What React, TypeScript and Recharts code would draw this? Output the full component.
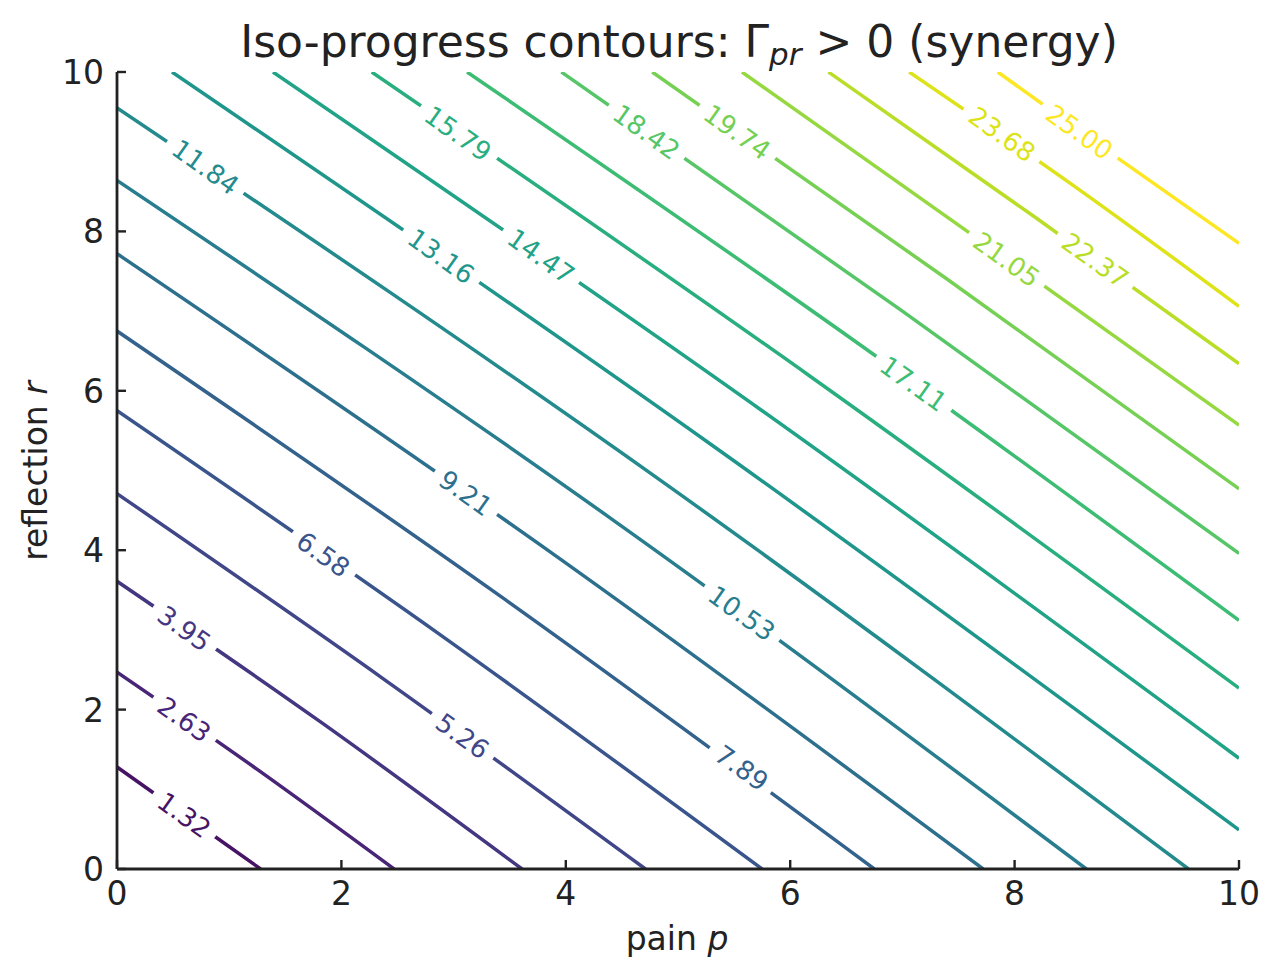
import { ComposedChart, Line, Scatter, XAxis, YAxis } from 'recharts'

const levels = ['1.32', '2.63', '3.95', '5.26', '6.58', '7.89', '9.21', '10.53', '11.84', '13.16',
  '14.47', '15.79', '17.11', '18.42', '19.74', '21.05', '22.37', '23.68', '25.00']
const colors = ['#471365', '#482576', '#453681', '#404688', '#39558c', '#33628d', '#2d708e', '#287d8e',
  '#238a8d', '#1f968b', '#20a386', '#29af7f', '#3dbc74', '#56c667', '#75d054', '#95d840', '#bade28',
  '#dde318', '#fde725']

// first 9 contours meet both axes at (0, v) and (v, 0); the mid value is where they cross p = r
const axisCuts = [1.28, 2.47, 3.61, 4.71, 5.75, 6.75, 7.72, 8.64, 9.55]
const axisMids = [0.64, 1.25, 1.83, 2.38, 2.91, 3.42, 3.92, 4.40, 4.86]
// the other 10 meet the top and right edges at (v, 10) and (10, v)
const edgeCuts = [0.49, 1.39, 2.27, 3.12, 3.96, 4.77, 5.57, 6.34, 7.06, 7.85]
const edgeMids = [5.31, 5.75, 6.18, 6.60, 7.00, 7.40, 7.79, 8.18, 8.55, 8.92]

// inline label centres
const labelX = [0.60, 0.60, 0.60, 3.08, 1.84, 5.57, 3.11, 5.57, 0.79, 2.89, 3.78, 3.04, 7.10, 4.72, 5.53, 7.93, 8.72, 7.89, 8.58]
const labelY = [0.68, 1.88, 3.02, 1.67, 3.95, 1.27, 4.72, 3.21, 8.81, 7.69, 7.69, 9.23, 6.09, 9.25, 9.25, 7.65, 7.64, 9.22, 9.25]

const ticks = [0, 2, 4, 6, 8, 10]

const W = 1280
const H = 980
const PLOT = { left: 117, top: 72, right: 1239, bottom: 869 }
const FONT = '"DejaVu Sans", sans-serif'
const INK = '#222222'
const ANGLE = Math.atan((PLOT.bottom - PLOT.top) / (PLOT.right - PLOT.left)) * 180 / Math.PI
const LABEL_SIZE = 26

const contours = [
  ...axisCuts.map((v, i) => [{ x: 0, y: v }, { x: axisMids[i], y: axisMids[i] }, { x: v, y: 0 }]),
  ...edgeCuts.map((v, i) => [{ x: v, y: 10 }, { x: edgeMids[i], y: edgeMids[i] }, { x: 10, y: v }]),
]

const labelPoints = levels.map((text, i) => ({ x: labelX[i], y: labelY[i], text, color: colors[i] }))

function ContourLabel(props: any) {
  const { cx, cy, payload } = props
  if (cx == null || cy == null) return null
  const t: string = payload.text
  const w = ((t.length - 1) * 0.636 + 0.318) * LABEL_SIZE + 18
  return (
    <g transform={`rotate(${ANGLE} ${cx} ${cy})`}>
      <rect x={cx - w / 2} y={cy - 9} width={w} height={18} fill="#ffffff" />
      <text x={cx} y={cy + 9.5} textAnchor="middle" fontSize={LABEL_SIZE} fontFamily={FONT} fill={payload.color}>
        {t}
      </text>
    </g>
  )
}

function XTick(props: any) {
  const { x, payload } = props
  return (
    <g>
      <line x1={x} x2={x} y1={PLOT.bottom} y2={PLOT.bottom - 9} stroke={INK} strokeWidth={2.4} />
      <text x={x} y={905} textAnchor="middle" fontSize={33} fontFamily={FONT} fill={INK}>{payload.value}</text>
    </g>
  )
}

function YTick(props: any) {
  const { y, payload } = props
  return (
    <g>
      <line x1={PLOT.left} x2={PLOT.left + 9} y1={y} y2={y} stroke={INK} strokeWidth={2.4} />
      <text x={104} y={y + 12} textAnchor="end" fontSize={33} fontFamily={FONT} fill={INK}>{payload.value}</text>
    </g>
  )
}

export default function App() {
  const yAxisW = 60
  const xAxisH = 60
  return (
    <div style={{ position: 'absolute', left: 0, top: 0, width: W, height: H, background: '#fff' }}>
      <ComposedChart
        width={W}
        height={H}
        margin={{ top: PLOT.top, right: W - PLOT.right, left: PLOT.left - yAxisW, bottom: H - PLOT.bottom - xAxisH }}
      >
        <XAxis
          type="number" dataKey="x" domain={[0, 10]} ticks={ticks} interval={0} allowDataOverflow
          height={xAxisH} tickLine={false} tick={(p: any) => <XTick {...p} />}
          axisLine={{ stroke: INK, strokeWidth: 2.8 }}
        />
        <YAxis
          type="number" domain={[0, 10]} ticks={ticks} interval={0} allowDataOverflow
          width={yAxisW} tickLine={false} tick={(p: any) => <YTick {...p} />}
          axisLine={{ stroke: INK, strokeWidth: 2.8 }}
        />
        {contours.map((pts, i) => (
          <Line
            key={levels[i]}
            data={pts}
            dataKey="y"
            type="monotone"
            stroke={colors[i]}
            strokeWidth={3.5}
            dot={false}
            activeDot={false}
            isAnimationActive={false}
          />
        ))}
        <Scatter data={labelPoints} dataKey="y" shape={(p: any) => <ContourLabel {...p} />} isAnimationActive={false} />
      </ComposedChart>
      <svg width={W} height={H} style={{ position: 'absolute', left: 0, top: 0, pointerEvents: 'none' }}>
        <text x={679} y={57} textAnchor="middle" fontSize={44} fontFamily={FONT} fill={INK}>
          Iso-progress contours: Γ
          <tspan fontStyle="italic" fontSize={31} dy={8}>pr</tspan>
          <tspan dy={-8}> &gt; 0 (synergy)</tspan>
        </text>
        <text x={677} y={950} textAnchor="middle" fontSize={33} fontFamily={FONT} fill={INK}>
          pain <tspan fontStyle="italic">p</tspan>
        </text>
        <text x={47} y={471} textAnchor="middle" fontSize={33} fontFamily={FONT} fill={INK} transform="rotate(-90 47 471)">
          reflection <tspan fontStyle="italic">r</tspan>
        </text>
      </svg>
    </div>
  )
}
